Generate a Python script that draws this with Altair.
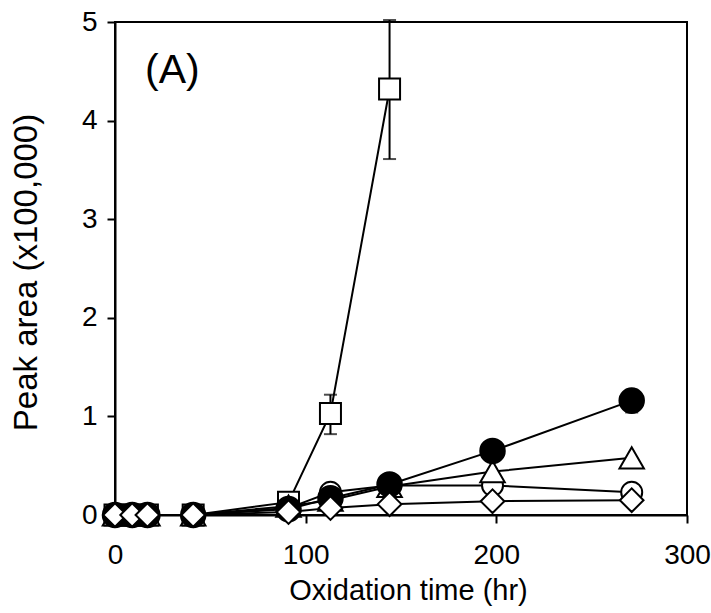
import altair as alt
import pandas as pd

times = [0, 9, 17, 41, 91, 113, 144, 198, 271]
square_vals = [0.0, 0.0, 0.0, 0.0, 0.13, 1.03, 4.32]
open_circle_vals = [0.0, 0.0, 0.0, 0.0, 0.07, 0.23, 0.30, 0.30, 0.23]
triangle_vals = [0.0, 0.0, 0.0, 0.0, 0.09, 0.15, 0.29, 0.44, 0.58]
filled_circle_vals = [0.0, 0.0, 0.0, 0.0, 0.06, 0.17, 0.31, 0.65, 1.16]
diamond_vals = [0.0, 0.0, 0.0, 0.0, 0.03, 0.07, 0.11, 0.14, 0.15]

err_times = [113, 144, 271]
err_lo = [0.82, 3.61, 1.04]
err_hi = [1.22, 5.02, 1.27]

x_ticks = [0, 100, 200, 300]
y_ticks = [0, 1, 2, 3, 4, 5]

FONT = "Liberation Sans"

series = [
    ("square", square_vals, "square", "white", 441),
    ("open_circle", open_circle_vals, "circle", "white", 441),
    ("triangle", triangle_vals, "triangle-up", "white", 600),
    ("filled_circle", filled_circle_vals, "circle", "black", 600),
    ("diamond", diamond_vals, "diamond", "white", 560),
]

rows = []
for name, vals, _, _, _ in series:
    for t, v in zip(times, vals):
        rows.append({"time": t, "value": v, "series": name})
df = pd.DataFrame(rows)
err_df = pd.DataFrame({"time": err_times, "value": err_lo, "hi": err_hi})

xs = alt.Scale(domain=[0, 300], nice=False)
ys = alt.Scale(domain=[0, 5], nice=False)

common = dict(grid=False, tickSize=8, tickWidth=2, tickColor="black",
              domainColor="black", domainWidth=2, labelFontSize=28,
              labelColor="black", titleColor="black", titleFontWeight="normal",
              labelFont=FONT, titleFont=FONT,
              format="d", labelFlush=False)

x_axis = alt.Axis(title="Oxidation time (hr)", values=x_ticks, titleFontSize=29,
                  labelPadding=18, titlePadding=7, titleX=293, **common)
y_axis = alt.Axis(title="Peak area (x100,000)", values=y_ticks, titleFontSize=33,
                  labelPadding=10, titlePadding=38, titleY=250, **common)

x_enc = alt.X("time:Q", scale=xs, axis=x_axis)
y_enc = alt.Y("value:Q", scale=ys, axis=y_axis)

base = alt.Chart(df)

lines = base.mark_line(color="black", strokeWidth=2).encode(
    x=x_enc, y=y_enc, detail="series:N")

errs = alt.Chart(err_df).mark_errorbar(
    ticks=True, size=13, thickness=2, color="black").encode(
    x=x_enc,
    y=y_enc,
    y2="hi:Q")

layers = [lines, errs]
for name, vals, shape, fill, size in series:
    layers.append(
        base.transform_filter(alt.datum.series == name).mark_point(
            shape=shape, filled=True, fill=fill, stroke="black",
            strokeWidth=2, size=size, opacity=1).encode(x=x_enc, y=y_enc))

label = alt.Chart(pd.DataFrame({"t": ["(A)"]})).mark_text(
    text="(A)", font=FONT, fontSize=41, align="left",
    baseline="alphabetic", color="black").encode(
    x=alt.value(30), y=alt.value(61))
layers.append(label)

chart = alt.layer(*layers).properties(
    width=572, height=493,
    background="white",
    autosize=alt.AutoSizeParams(type="none"),
    padding={"left": 115, "top": 22, "right": 24, "bottom": 98},
).configure_view(stroke="black", strokeWidth=2)

chart.save("out.html", embed_options={"renderer": "svg", "actions": False})
